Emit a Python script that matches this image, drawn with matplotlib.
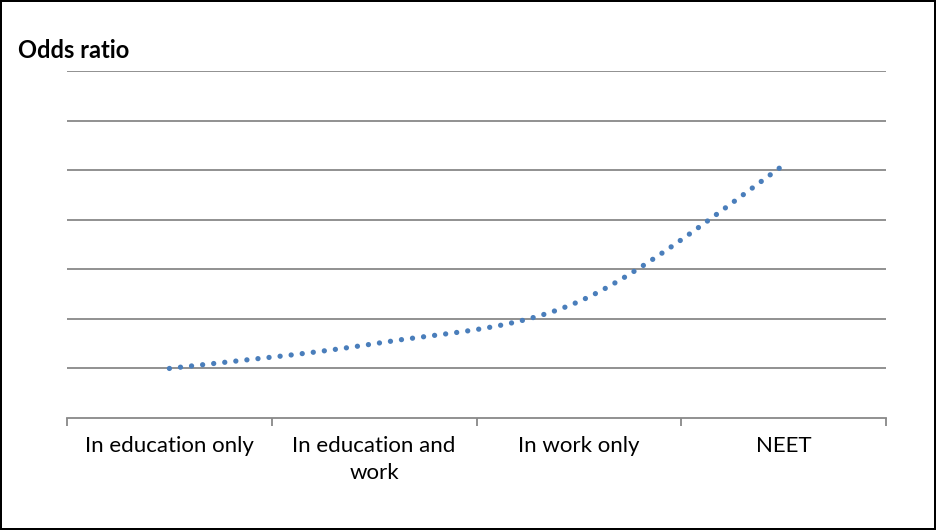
import numpy as np
import matplotlib
matplotlib.use('Agg')
import matplotlib.pyplot as plt

# categories and odds ratios
categories = ['In education only', 'In education and\nwork', 'In work only', 'NEET']
odds = [1.0, 1.5, 2.35, 5.1]

plt.rcParams['font.family'] = ['Lato', 'DejaVu Sans']

fig = plt.figure(figsize=(9.36, 5.3), dpi=100)
fig.patch.set_edgecolor('black')
fig.patch.set_linewidth(1.5)
ax = fig.add_axes([0.0716, 0.2113, 0.875, 0.6547])

# Excel-like smoothed line (Catmull-Rom style bezier)
x = np.arange(len(odds), dtype=float)
y = np.array(odds)
px = np.concatenate([[x[0]], x, [x[-1]]])
py = np.concatenate([[y[0]], y, [y[-1]]])
cx, cy = [], []
t = np.linspace(0, 1, 60)
for i in range(len(x) - 1):
    p0 = np.array([px[i + 1], py[i + 1]])
    p3 = np.array([px[i + 2], py[i + 2]])
    p1 = p0 + (np.array([px[i + 2], py[i + 2]]) - np.array([px[i], py[i]])) / 6
    p2 = p3 - (np.array([px[i + 3], py[i + 3]]) - np.array([px[i + 1], py[i + 1]])) / 6
    b = ((1 - t) ** 3)[:, None] * p0 + (3 * (1 - t) ** 2 * t)[:, None] * p1 \
        + (3 * (1 - t) * t ** 2)[:, None] * p2 + (t ** 3)[:, None] * p3
    cx.extend(b[:, 0])
    cy.extend(b[:, 1])

ax.plot(cx, cy, color='#4a7ebb', linewidth=3.8, linestyle=(0, (0.01, 2.1)),
        dash_capstyle='round', zorder=3)

ax.set_xlim(-0.5, len(odds) - 0.5)
ax.set_ylim(0, 7)
ax.set_yticks(range(1, 8))
ax.yaxis.grid(True, color='#888888', linewidth=1.3)
ax.tick_params(axis='y', left=False, labelleft=False)

ax.set_xticks(x)
ax.set_xticklabels(categories, fontsize=16, linespacing=1.45)
ax.set_xticks(np.arange(-0.5, len(odds), 1.0), minor=True)
ax.tick_params(axis='x', which='major', length=0, pad=13)
ax.tick_params(axis='x', which='minor', length=6, color='#888888', width=1.3)

for s in ['top', 'right', 'left']:
    ax.spines[s].set_visible(False)
ax.spines['bottom'].set_color('#888888')
ax.spines['bottom'].set_linewidth(1.3)

fig.text(0.019, 0.904, 'Odds ratio', fontsize=17, fontweight='bold', va='center', ha='left')

fig.savefig('out.png', dpi=100)
